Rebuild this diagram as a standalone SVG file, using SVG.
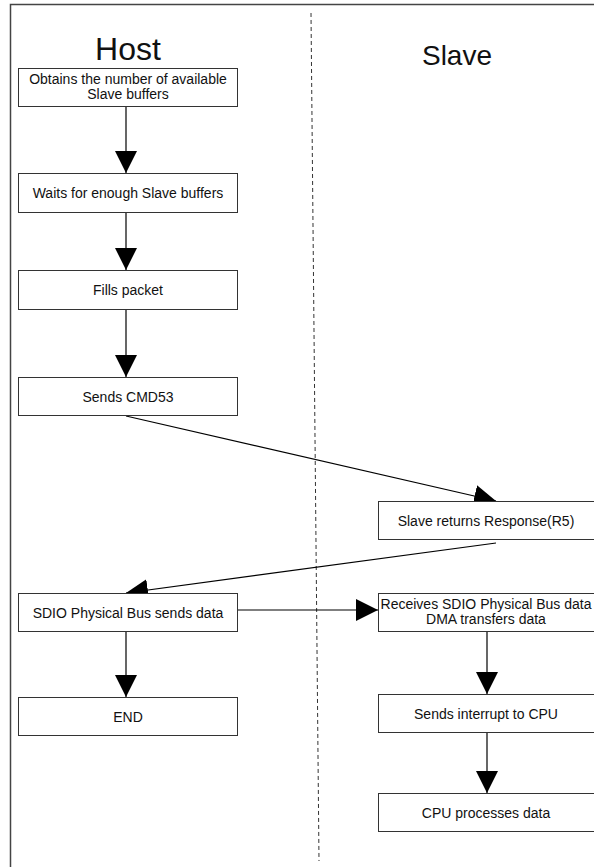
<svg xmlns="http://www.w3.org/2000/svg" width="594" height="867" viewBox="0 0 594 867">
<defs>
<marker id="ah" viewBox="0 0 22 26" refX="22" refY="13" markerWidth="22" markerHeight="26" markerUnits="userSpaceOnUse" orient="auto">
<path d="M0,2 L22,13 L0,24 z" fill="#000"/>
</marker>
<style>
.box{fill:#fff;stroke:#333;stroke-width:1}
.t{font-family:"Liberation Sans",Arial,sans-serif;font-size:14px;fill:#111;text-anchor:middle}
.h{font-family:"Liberation Sans",Arial,sans-serif;fill:#111;text-anchor:middle}
.c{stroke:#000;stroke-width:1.2;fill:none;marker-end:url(#ah)}
</style>
</defs>
<rect width="594" height="867" fill="#fff"/>
<g id="frame">
<path d="M10.5,867 V4.5 H594" fill="none" stroke="#444" stroke-width="1.5"/>
<line x1="311" y1="13" x2="319" y2="861" stroke="#333" stroke-width="1" stroke-dasharray="4,3"/>
<text class="h" x="128" y="60" font-size="32">Host</text>
<text class="h" x="457" y="65" font-size="28">Slave</text>
</g>
<g id="connectors">
<line class="c" x1="126" y1="106" x2="126" y2="173"/>
<line class="c" x1="126" y1="212" x2="126" y2="270"/>
<line class="c" x1="126" y1="310" x2="126" y2="377"/>
<line class="c" x1="126" y1="416" x2="496" y2="501"/>
<line class="c" x1="496" y1="543" x2="126" y2="593"/>
<line class="c" x1="237" y1="610" x2="378" y2="610"/>
<line class="c" x1="126" y1="632" x2="126" y2="697"/>
<line class="c" x1="487" y1="632" x2="487" y2="694"/>
<line class="c" x1="487" y1="732" x2="487" y2="793"/>
</g>
<g id="n1"><rect class="box" x="18.5" y="68.5" width="219" height="38"/>
<text class="t" x="128" y="84">Obtains the number of available</text>
<text class="t" x="128" y="99">Slave buffers</text></g>
<g id="n2"><rect class="box" x="18.5" y="173.5" width="219" height="39"/>
<text class="t" x="128" y="198">Waits for enough Slave buffers</text></g>
<g id="n3"><rect class="box" x="18.5" y="270.5" width="219" height="39"/>
<text class="t" x="128" y="295">Fills packet</text></g>
<g id="n4"><rect class="box" x="18.5" y="377.5" width="219" height="38"/>
<text class="t" x="128" y="402">Sends CMD53</text></g>
<g id="n5"><rect class="box" x="378.5" y="501.5" width="222" height="38"/>
<text class="t" x="486" y="526">Slave returns Response(R5)</text></g>
<g id="n6"><rect class="box" x="18.5" y="593.5" width="219" height="38"/>
<text class="t" x="128" y="618">SDIO Physical Bus sends data</text></g>
<g id="n7"><rect class="box" x="378.5" y="593.5" width="222" height="38"/>
<text class="t" x="486" y="609">Receives SDIO Physical Bus data</text>
<text class="t" x="486" y="624">DMA transfers data</text></g>
<g id="n8"><rect class="box" x="18.5" y="697.5" width="219" height="38"/>
<text class="t" x="128" y="722">END</text></g>
<g id="n9"><rect class="box" x="378.5" y="694.5" width="222" height="38"/>
<text class="t" x="486" y="719">Sends interrupt to CPU</text></g>
<g id="n10"><rect class="box" x="378.5" y="793.5" width="222" height="38"/>
<text class="t" x="486" y="818">CPU processes data</text></g>
</svg>
